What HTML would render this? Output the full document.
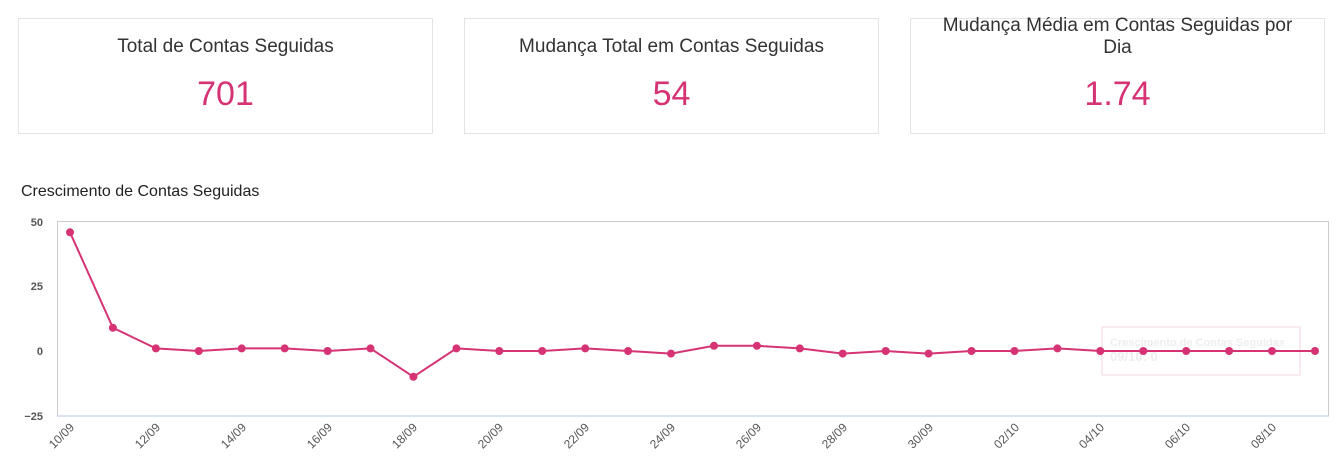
<!DOCTYPE html>
<html><head><meta charset="utf-8"><style>
body{margin:0;width:1339px;height:468px;background:#fff;font-family:"Liberation Sans",sans-serif;overflow:hidden;position:relative}
.card{position:absolute;top:18px;width:413px;height:114px;border:1px solid #e3e3e3;text-align:center;color:#333}
.card .t{position:absolute;left:25px;right:25px;top:17px;font-size:19px;line-height:22px}
.card .n{position:absolute;left:0;right:0;top:56px;font-size:34px;color:#d63374}
h3{position:absolute;left:21px;top:183px;margin:0;font-size:16px;font-weight:normal;color:#222}
</style></head><body>
<div class="card" style="left:18px"><div class="t">Total de Contas Seguidas</div><div class="n">701</div></div>
<div class="card" style="left:464px"><div class="t">Mudança Total em Contas Seguidas</div><div class="n">54</div></div>
<div class="card" style="left:910px"><div class="t" style="top:-4px">Mudança Média em Contas Seguidas por Dia</div><div class="n">1.74</div></div>
<h3>Crescimento de Contas Seguidas</h3>
<svg width="1339" height="468" style="position:absolute;left:0;top:0" font-family="Liberation Sans, sans-serif">
<rect x="57.5" y="221.5" width="1271" height="194.5" fill="none" stroke="#ccc"/>
<line x1="57" y1="416" x2="1329" y2="416" stroke="#b8c8e0"/>
<g font-size="11" font-weight="bold" fill="#555" text-anchor="end">
<text x="43" y="226">50</text><text x="43" y="290">25</text><text x="43" y="355">0</text><text x="43" y="420">−25</text>
</g>
<rect x="1102" y="327" width="198" height="48" fill="#fff" fill-opacity="0.85" stroke="#f5d5e0"/>
<g font-size="11" font-weight="bold" fill="#eee"><text x="1110" y="346">Crescimento de Contas Seguidas</text><text x="1110" y="361" font-size="13">09/10: 0</text></g>
<polyline fill="none" stroke="#d63374" stroke-width="2" points="70,232.3 112.9,327.8 155.9,348.4 198.8,351 241.7,348.4 284.7,348.4 327.6,351 370.5,348.4 413.4,376.8 456.4,348.4 499.3,351 542.2,351 585.2,348.4 628.1,351 671,353.6 714,345.8 756.9,345.8 799.8,348.4 842.7,353.6 885.7,351 928.6,353.6 971.5,351 1014.5,351 1057.4,348.4 1100.3,351 1143.3,351 1186.2,351 1229.1,351 1272,351 1315,351"/>
<g fill="#d63374">
<circle cx="70" cy="232.3" r="4"/><circle cx="112.9" cy="327.8" r="4"/><circle cx="155.9" cy="348.4" r="4"/><circle cx="198.8" cy="351" r="4"/><circle cx="241.7" cy="348.4" r="4"/><circle cx="284.7" cy="348.4" r="4"/><circle cx="327.6" cy="351" r="4"/><circle cx="370.5" cy="348.4" r="4"/><circle cx="413.4" cy="376.8" r="4"/><circle cx="456.4" cy="348.4" r="4"/><circle cx="499.3" cy="351" r="4"/><circle cx="542.2" cy="351" r="4"/><circle cx="585.2" cy="348.4" r="4"/><circle cx="628.1" cy="351" r="4"/><circle cx="671" cy="353.6" r="4"/><circle cx="714" cy="345.8" r="4"/><circle cx="756.9" cy="345.8" r="4"/><circle cx="799.8" cy="348.4" r="4"/><circle cx="842.7" cy="353.6" r="4"/><circle cx="885.7" cy="351" r="4"/><circle cx="928.6" cy="353.6" r="4"/><circle cx="971.5" cy="351" r="4"/><circle cx="1014.5" cy="351" r="4"/><circle cx="1057.4" cy="348.4" r="4"/><circle cx="1100.3" cy="351" r="4"/><circle cx="1143.3" cy="351" r="4"/><circle cx="1186.2" cy="351" r="4"/><circle cx="1229.1" cy="351" r="4"/><circle cx="1272" cy="351" r="4"/><circle cx="1315" cy="351" r="4"/>
</g>
<g font-size="12" fill="#555" text-anchor="end">
<text transform="translate(75,428) rotate(-45)">10/09</text>
<text transform="translate(161,428) rotate(-45)">12/09</text>
<text transform="translate(247,428) rotate(-45)">14/09</text>
<text transform="translate(333,428) rotate(-45)">16/09</text>
<text transform="translate(418,428) rotate(-45)">18/09</text>
<text transform="translate(504,428) rotate(-45)">20/09</text>
<text transform="translate(590,428) rotate(-45)">22/09</text>
<text transform="translate(676,428) rotate(-45)">24/09</text>
<text transform="translate(762,428) rotate(-45)">26/09</text>
<text transform="translate(848,428) rotate(-45)">28/09</text>
<text transform="translate(934,428) rotate(-45)">30/09</text>
<text transform="translate(1020,428) rotate(-45)">02/10</text>
<text transform="translate(1105,428) rotate(-45)">04/10</text>
<text transform="translate(1191,428) rotate(-45)">06/10</text>
<text transform="translate(1277,428) rotate(-45)">08/10</text>
</g>
</svg>
</body></html>
